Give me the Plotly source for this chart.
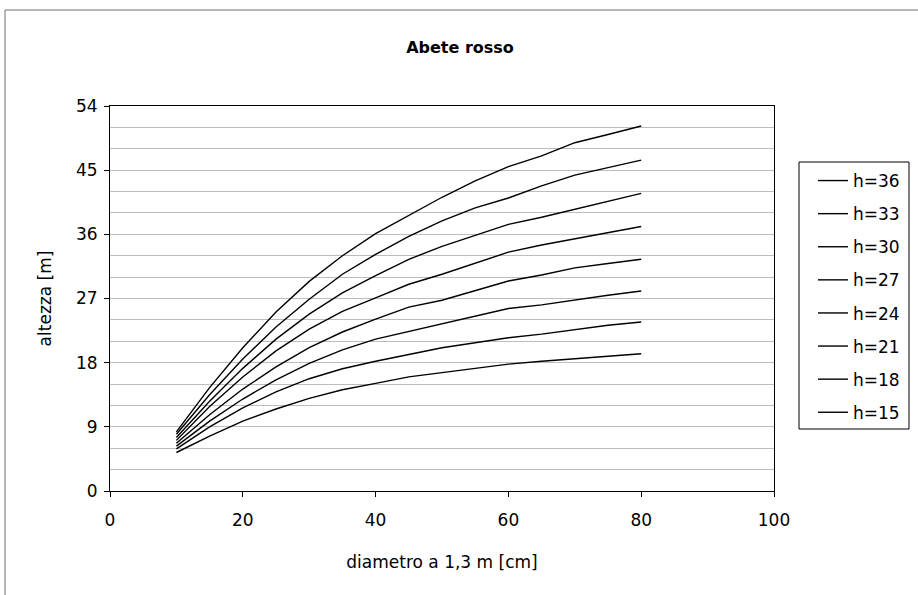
import plotly.graph_objects as go

diametro = [10, 15, 20, 25, 30, 35, 40, 45, 50, 55, 60, 65, 70, 75, 80]

series_names = ["h=36", "h=33", "h=30", "h=27", "h=24", "h=21", "h=18", "h=15"]

h36 = [8.3, 14.5, 20.1, 25.1, 29.4, 33.0, 36.1, 38.7, 41.2, 43.5, 45.5, 47.0, 48.85, 50.0, 51.2]
h33 = [7.95, 13.5, 18.5, 23.0, 26.9, 30.4, 33.2, 35.7, 37.9, 39.7, 41.1, 42.8, 44.3, 45.4, 46.4]
h30 = [7.5, 12.6, 17.2, 21.3, 24.8, 27.8, 30.2, 32.5, 34.3, 35.8, 37.4, 38.4, 39.5, 40.6, 41.75]
h27 = [7.1, 11.85, 16.0, 19.65, 22.7, 25.2, 27.1, 29.0, 30.4, 31.9, 33.5, 34.5, 35.4, 36.2, 37.1]
h24 = [6.7, 10.7, 14.3, 17.4, 20.1, 22.3, 24.1, 25.8, 26.75, 28.1, 29.45, 30.3, 31.3, 31.9, 32.5]
h21 = [6.3, 9.8, 12.9, 15.6, 17.9, 19.8, 21.3, 22.4, 23.5, 24.6, 25.6, 26.1, 26.8, 27.45, 28.05]
h18 = [5.9, 9.0, 11.65, 13.9, 15.75, 17.15, 18.2, 19.2, 20.1, 20.8, 21.5, 22.0, 22.6, 23.25, 23.7]
h15 = [5.4, 7.7, 9.8, 11.5, 13.0, 14.2, 15.1, 16.0, 16.6, 17.25, 17.8, 18.2, 18.55, 18.8, 19.25]

all_series = [h36, h33, h30, h27, h24, h21, h18, h15]

y_ticks = [0, 9, 18, 27, 36, 45, 54]
x_ticks = [0, 20, 40, 60, 80, 100]

FONT = "DejaVu Sans, Liberation Sans, Arial, sans-serif"
FS = 17

fig = go.Figure()
for i, (name, vals) in enumerate(zip(series_names, all_series)):
    fig.add_trace(go.Scatter(
        x=diametro, y=vals, mode="lines", name=name,
        line=dict(color="black", width=1.4),
        legendgroup=f"g{i}",
    ))

L, R, T, B = 110, 144, 106, 104
W, H = 918, 595
pw = W - L - R
ph = H - T - B


def px_x(px):
    return (px - L) / pw


def px_y(py):
    return (H - B - py) / ph


fig.update_layout(
    width=W, height=H,
    margin=dict(l=L, r=R, t=T, b=B, pad=0),
    paper_bgcolor="white", plot_bgcolor="white",
    font=dict(family=FONT, size=FS, color="black"),
    title=dict(text="<b>Abete rosso</b>", x=460 / W, xanchor="center",
               y=1 - 47 / H, yanchor="middle",
               font=dict(family=FONT, size=16, color="black")),
    showlegend=True,
    legend=dict(
        x=px_x(813), y=px_y(163), xanchor="left", yanchor="top",
        borderwidth=0, bgcolor="rgba(0,0,0,0)",
        font=dict(family=FONT, size=FS, color="black"),
        tracegroupgap=8, itemwidth=30,
    ),
    xaxis=dict(
        range=[0, 100], tickvals=x_ticks, ticktext=[str(v) for v in x_ticks],
        showgrid=False, zeroline=False,
        showline=True, linecolor="black", linewidth=1, mirror=True,
        ticks="outside", ticklen=5, tickcolor="black",
        ticklabelstandoff=9,
        tickfont=dict(size=FS),
        title=dict(text="diametro a 1,3 m [cm]", font=dict(size=FS), standoff=26),
    ),
    yaxis=dict(
        range=[0, 54], tickvals=y_ticks, ticktext=[str(v) for v in y_ticks],
        showgrid=True, gridcolor="#bdbdbd", gridwidth=1,
        minor=dict(dtick=3, tick0=0, showgrid=True, gridcolor="#bdbdbd", gridwidth=1),
        zeroline=False,
        showline=True, linecolor="black", linewidth=1, mirror=True,
        ticks="outside", ticklen=5, tickcolor="black",
        ticklabelstandoff=3,
        tickfont=dict(size=FS),
        title=dict(text="altezza [m]", font=dict(size=FS), standoff=20),
    ),
)

# outer chart frame
fig.add_shape(type="rect", xref="paper", yref="paper",
              x0=px_x(5), x1=px_x(925), y0=px_y(600), y1=px_y(10),
              line=dict(color="#707070", width=1), fillcolor="rgba(0,0,0,0)",
              layer="below")

# legend frame
fig.add_shape(type="rect", xref="paper", yref="paper",
              x0=px_x(799), x1=px_x(909), y0=px_y(429), y1=px_y(162),
              line=dict(color="black", width=1), fillcolor="rgba(0,0,0,0)")

fig.write_html("out.html", config={"displayModeBar": False},
               post_script="document.body.style.margin='0px';")
